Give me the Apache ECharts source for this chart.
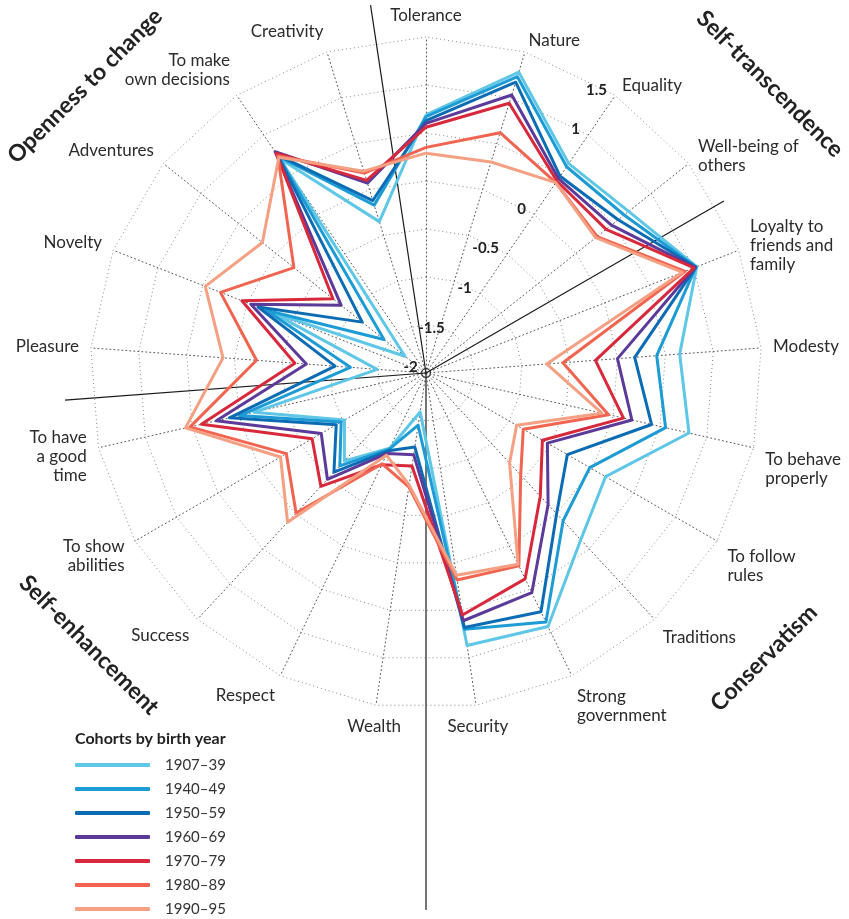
<!DOCTYPE html>
<html><head><meta charset="utf-8">
<script src="https://cdn.jsdelivr.net/npm/echarts@6/dist/echarts.min.js"></script>
<style>html,body{margin:0;padding:0;background:#fff}#c{width:849px;height:919px}</style>
</head><body><div id="c"></div>
<script>
// Indicators, listed clockwise starting at the top
const categories = ['Tolerance','Nature','Equality','Well-being of\nothers','Loyalty to\nfriends and\nfamily','Modesty','To behave\nproperly','To follow\nrules','Traditions','Strong\ngovernment','Security','Wealth','Respect','Success','To show\nabilities','To have\na good\ntime','Pleasure','Novelty','Adventures','To make\nown decisions','Creativity'];
const cohorts = ['1907–39','1940–49','1950–59','1960–69','1970–79','1980–89','1990–95'];
const v1907 = [0.69, 1.28, 0.64, 0.70, 1.03, 0.65, 0.81, 0.16, 0.37, 0.93, 0.87, -1.59, -1.13, -0.75, -1.02, -0.16, -1.49, -0.28, -1.72, 0.70, -0.35];
const v1940 = [0.67, 1.23, 0.60, 0.64, 1.02, 0.41, 0.56, -0.03, 0.10, 0.88, 0.70, -1.45, -1.12, -0.68, -0.98, -0.01, -1.21, -0.21, -1.44, 0.73, -0.17];
const v1950 = [0.63, 1.17, 0.48, 0.56, 1.02, 0.18, 0.41, -0.30, 0.00, 0.76, 0.68, -1.22, -1.10, -0.59, -0.92, 0.10, -1.05, -0.12, -1.15, 0.75, -0.12];
const v1960 = [0.60, 1.03, 0.45, 0.47, 1.01, 0.00, 0.20, -0.54, -0.13, 0.54, 0.61, -1.14, -1.07, -0.49, -0.74, 0.24, -0.75, -0.04, -0.87, 0.79, 0.07];
const v1970 = [0.56, 0.94, 0.42, 0.40, 1.00, -0.23, 0.11, -0.60, -0.25, 0.38, 0.55, -1.02, -0.94, -0.39, -0.63, 0.40, -0.63, 0.06, -0.76, 0.77, 0.10];
const v1980 = [0.35, 0.62, 0.40, 0.28, 0.90, -0.57, -0.05, -0.83, -0.55, 0.23, 0.18, -0.80, -0.95, -0.01, -0.32, 0.52, -0.23, 0.30, -0.24, 0.74, 0.18];
const v1990 = [0.29, 0.30, 0.40, 0.26, 0.87, -0.74, -0.12, -0.91, -0.72, 0.21, 0.13, -0.82, -1.05, 0.12, -0.25, 0.57, 0.12, 0.47, 0.18, 0.72, 0.20];
const seriesValues = [v1907, v1940, v1950, v1960, v1970, v1980, v1990];
const colors = ['#5ec6e6', '#1d9bd4', '#0b6cb4', '#5c3a99', '#d8283b', '#f1644f', '#f5a083'];
const axisMin = -2, axisMax = 1.5, axisStep = 0.5;
const hiddenTicks = [0.5];
const labelAxis = 'Equality';
const groups = ['Openness to change', 'Self-transcendence', 'Conservatism', 'Self-enhancement'];

const FONT = 'Lato, "Open Sans", sans-serif';
const cx = 426, cy = 373, R = 336;
const n = categories.length;
// ECharts radar lays indicators counter-clockwise; reorder so they appear clockwise
const order = [0];
for (let i = n - 1; i >= 1; i--) order.push(i);

const indicator = order.map(i => {
  const o = { name: categories[i], min: axisMin, max: axisMax };
  if (categories[i] === labelAxis) o.axisLabel = { show: true };
  return o;
});

const graphics = [];
// group dividing lines (in indicator steps, clockwise from top)
const dividers = [[-0.5, 372], [3.5, 344], [10.5, 537], [15.5, 362]];
dividers.forEach(([step, len]) => {
  const a = step * 2 * Math.PI / n;
  graphics.push({ type: 'line', z: 1, shape: { x1: cx, y1: cy, x2: cx + len * Math.sin(a), y2: cy - len * Math.cos(a) },
    style: { stroke: '#1a1a1a', lineWidth: 1.2 } });
});
graphics.push({ type: 'circle', z: 1, shape: { cx: cx, cy: cy, r: 4.5 }, style: { fill: 'none', stroke: '#333', lineWidth: 1 } });
// indicator names
categories.forEach((name, i) => {
  const a = i * 2 * Math.PI / n, s = Math.sin(a), c = Math.cos(a);
  const r = R + 12, lh = 19, h = name.split('\n').length * lh;
  let x = cx + r * s, y = cy - r * c, align, va = 'middle';
  if (Math.abs(s) <= 0.2) { align = 'center'; va = c > 0 ? 'bottom' : 'top'; }
  else if (s > 0) { align = 'left'; if (c < 0) va = 'top'; }
  else { align = 'right'; y -= c * h / 2; }
  graphics.push({ type: 'text', z: 5, style: { text: name, x: x, y: y, align: align, verticalAlign: va,
    font: '17px ' + FONT, fill: '#2b2b2b', lineHeight: lh } });
});
// group titles
const groupPos = [[85, 86, Math.PI / 4], [770, 84, -Math.PI / 4], [764, 658, Math.PI / 4], [89, 645, -Math.PI / 4]];
groups.forEach((g, k) => {
  graphics.push({ type: 'text', z: 5, x: groupPos[k][0], y: groupPos[k][1], rotation: groupPos[k][2],
    style: { text: g, x: 0, y: 0, align: 'center', verticalAlign: 'middle', font: 'bold 23px ' + FONT, fill: '#222' } });
});

const chart = echarts.init(document.getElementById('c'));
chart.setOption({
  animation: false,
  color: colors,
  title: { text: 'Cohorts by birth year', left: 75, top: 731, padding: 0,
    textStyle: { fontFamily: FONT, fontSize: 16, fontWeight: 'bold', color: '#222' } },
  legend: { orient: 'vertical', left: 75, top: 755, icon: 'roundRect', itemWidth: 75, itemHeight: 4, itemGap: 4,
    padding: 0, data: cohorts,
    textStyle: { fontFamily: FONT, fontSize: 15, color: '#333', lineHeight: 20, padding: [0, 0, 0, 10] } },
  radar: {
    center: [cx, cy], radius: R, startAngle: 90, shape: 'polygon', splitNumber: (axisMax - axisMin) / axisStep,
    indicator: indicator,
    axisName: { show: false },
    axisLine: { lineStyle: { color: '#555', type: [1, 3], width: 1 } },
    splitLine: { lineStyle: { color: '#888', type: [1, 3], width: 1 } },
    splitArea: { show: false },
    axisTick: { show: false },
    axisLabel: { show: false, color: '#222', fontFamily: FONT, fontSize: 15, fontWeight: 'bold', margin: 10,
      formatter: v => hiddenTicks.includes(+v) ? '' : String(v) }
  },
  graphic: graphics,
  series: [{
    type: 'radar', symbol: 'none', z: 3,
    data: seriesValues.map((vals, k) => ({
      name: cohorts[k],
      value: order.map(i => vals[i]),
      lineStyle: { color: colors[k], width: 3 },
      itemStyle: { color: colors[k] }
    }))
  }]
});
</script></body></html>
